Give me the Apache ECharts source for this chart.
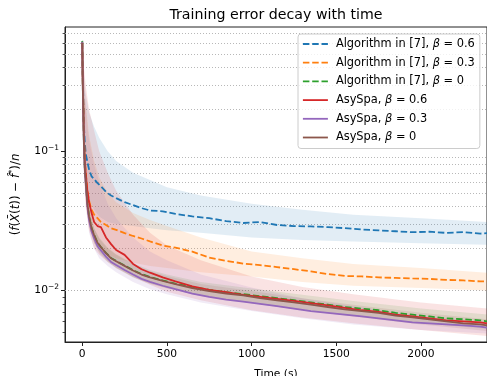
<!DOCTYPE html>
<html>
<head>
<meta charset="utf-8">
<script src="https://cdn.jsdelivr.net/npm/echarts@6/dist/echarts.min.js"></script>
<style>
  html, body { margin: 0; padding: 0; background: #fff; }
  #main { width: 487px; height: 376px; }
</style>
</head>
<body>
<div id="main"></div>
<script>
// time stamps (s) of the mean curves
const times = [0, 3, 6, 10, 15, 20, 30, 40, 55, 70, 90, 110, 140, 170, 200, 250, 300, 350, 400, 475,
  550, 650, 750, 850, 950, 1050, 1150, 1250, 1350, 1450, 1550, 1650, 1750, 1850, 1950, 2050, 2150, 2250, 2350, 2390];

// mean training error
const alg06 = [0.60, 0.35, 0.24, 0.15, 0.115, 0.097, 0.084, 0.074, 0.066, 0.063, 0.059, 0.056, 0.051, 0.048, 0.046, 0.043, 0.041, 0.039, 0.0375, 0.037,
  0.0355, 0.034, 0.033, 0.0315, 0.0305, 0.031, 0.0295, 0.029, 0.0288, 0.0285, 0.028, 0.0274, 0.027, 0.0266, 0.0262, 0.0264, 0.0259, 0.0262, 0.0256, 0.0258];
const alg03 = [0.60, 0.32, 0.22, 0.13, 0.09, 0.072, 0.053, 0.044, 0.038, 0.035, 0.033, 0.031, 0.0295, 0.028, 0.0272, 0.0258, 0.0246, 0.0236, 0.0225, 0.021,
  0.0203, 0.019, 0.0172, 0.0163, 0.0156, 0.0152, 0.0147, 0.0142, 0.0137, 0.0131, 0.0127, 0.0126, 0.0124, 0.0123, 0.0122, 0.0121, 0.0119, 0.0118, 0.0116, 0.0116];
const alg0 = [0.62, 0.30, 0.19, 0.11, 0.075, 0.062, 0.042, 0.034, 0.028, 0.025, 0.022, 0.0205, 0.0186, 0.0171, 0.0163, 0.0151, 0.014, 0.0131, 0.0125, 0.0118,
  0.0112, 0.0106, 0.0101, 0.0097, 0.0094, 0.0091, 0.0088, 0.0085, 0.0082, 0.0079, 0.0076, 0.0074, 0.0072, 0.0069, 0.0067, 0.0065, 0.0063, 0.0062, 0.0061, 0.0060];
const asy06 = [0.60, 0.32, 0.21, 0.12, 0.085, 0.07, 0.052, 0.043, 0.036, 0.031, 0.029, 0.0285, 0.024, 0.0215, 0.0195, 0.018, 0.0155, 0.0142, 0.0134, 0.0124,
  0.0116, 0.0107, 0.0101, 0.0097, 0.0093, 0.0090, 0.0087, 0.0084, 0.0081, 0.0078, 0.0075, 0.0072, 0.007, 0.0067, 0.0065, 0.0063, 0.0061, 0.006, 0.0059, 0.0058];
const asy03 = [0.61, 0.29, 0.18, 0.105, 0.072, 0.059, 0.040, 0.032, 0.0265, 0.0237, 0.0208, 0.0194, 0.0175, 0.016, 0.0152, 0.014, 0.013, 0.0121, 0.0115, 0.0108,
  0.0102, 0.0095, 0.009, 0.0086, 0.0083, 0.008, 0.0077, 0.0074, 0.0071, 0.0069, 0.0067, 0.0065, 0.0063, 0.0061, 0.0059, 0.0058, 0.0057, 0.0056, 0.0055, 0.0054];
const asy0 = [0.60, 0.30, 0.19, 0.11, 0.075, 0.062, 0.042, 0.034, 0.028, 0.025, 0.022, 0.0205, 0.0185, 0.017, 0.0162, 0.015, 0.0139, 0.013, 0.0124, 0.0117,
  0.0111, 0.0104, 0.0099, 0.0095, 0.0092, 0.0088, 0.0085, 0.0082, 0.0079, 0.0076, 0.0073, 0.0071, 0.0069, 0.0066, 0.0064, 0.0062, 0.0060, 0.0058, 0.0057, 0.0056];

// shaded spread around each curve (upper / lower edge)
const bandTimes = [0, 5, 10, 20, 40, 70, 100, 150, 200, 300, 400, 500, 700, 1000, 1300, 1600, 2000, 2390];
const alg06Hi = [0.6, 0.45, 0.36, 0.26, 0.19, 0.15, 0.125, 0.1, 0.085, 0.07, 0.062, 0.055, 0.048, 0.042, 0.038, 0.035, 0.033, 0.031];
const alg06Lo = [0.6, 0.2, 0.1, 0.06, 0.045, 0.038, 0.034, 0.031, 0.030, 0.029, 0.028, 0.027, 0.026, 0.024, 0.023, 0.0225, 0.0218, 0.0213];
const alg03Hi = [0.6, 0.45, 0.35, 0.22, 0.13, 0.085, 0.065, 0.05, 0.043, 0.036, 0.032, 0.029, 0.024, 0.019, 0.017, 0.0155, 0.0145, 0.0134];
const alg03Lo = [0.6, 0.2, 0.09, 0.045, 0.028, 0.022, 0.02, 0.018, 0.017, 0.0158, 0.015, 0.0145, 0.0135, 0.0126, 0.0115, 0.0108, 0.0104, 0.0100];
const alg0Hi = [0.6, 0.27, 0.13, 0.072, 0.039, 0.028, 0.024, 0.0203, 0.0182, 0.0157, 0.014, 0.013, 0.0115, 0.0103, 0.0093, 0.0084, 0.0074, 0.0067];
const alg0Lo = [0.6, 0.19, 0.095, 0.054, 0.03, 0.022, 0.0189, 0.0162, 0.0146, 0.0125, 0.0112, 0.0104, 0.0092, 0.0082, 0.0073, 0.0066, 0.0058, 0.0053];
const asy06Hi = [0.6, 0.5, 0.4, 0.3, 0.2, 0.14, 0.1, 0.07, 0.052, 0.035, 0.026, 0.021, 0.0165, 0.0126, 0.0106, 0.0094, 0.0082, 0.0074];
const asy06Lo = [0.6, 0.15, 0.07, 0.04, 0.027, 0.02, 0.018, 0.016, 0.0145, 0.0125, 0.011, 0.0098, 0.0085, 0.0072, 0.0064, 0.0058, 0.0052, 0.0047];
const asy03Hi = [0.6, 0.4, 0.3, 0.2, 0.12, 0.08, 0.06, 0.042, 0.033, 0.024, 0.019, 0.0165, 0.013, 0.0105, 0.0088, 0.0077, 0.0066, 0.0059];
const asy03Lo = [0.6, 0.18, 0.08, 0.045, 0.026, 0.02, 0.017, 0.015, 0.0135, 0.0115, 0.0102, 0.0094, 0.0082, 0.0071, 0.0063, 0.0057, 0.0052, 0.0049];
const asy0Hi = [0.6, 0.27, 0.13, 0.072, 0.039, 0.028, 0.0235, 0.02, 0.018, 0.0154, 0.0137, 0.0127, 0.0111, 0.0099, 0.0088, 0.0079, 0.0069, 0.0062];
const asy0Lo = [0.6, 0.18, 0.093, 0.053, 0.029, 0.022, 0.0185, 0.016, 0.0144, 0.0124, 0.0111, 0.0103, 0.0091, 0.0081, 0.0072, 0.0065, 0.0057, 0.0051];

// axis ticks
const xTicks = [0, 500, 1000, 1500, 2000];
const yMajor = [0.01, 0.1];
const yMinor = [0.005, 0.006, 0.007, 0.008, 0.009, 0.02, 0.03, 0.04, 0.05, 0.06, 0.07, 0.08, 0.09, 0.2, 0.3, 0.4, 0.5, 0.6, 0.7];

const curves = [
  {name: 'Algorithm in [7], β = 0.6', mean: alg06, hi: alg06Hi, lo: alg06Lo, color: '#1f77b4', dashed: true},
  {name: 'Algorithm in [7], β = 0.3', mean: alg03, hi: alg03Hi, lo: alg03Lo, color: '#ff7f0e', dashed: true},
  {name: 'Algorithm in [7], β = 0', mean: alg0, hi: alg0Hi, lo: alg0Lo, color: '#2ca02c', dashed: true},
  {name: 'AsySpa, β = 0.6', mean: asy06, hi: asy06Hi, lo: asy06Lo, color: '#d62728', dashed: false},
  {name: 'AsySpa, β = 0.3', mean: asy03, hi: asy03Hi, lo: asy03Lo, color: '#9467bd', dashed: false},
  {name: 'AsySpa, β = 0', mean: asy0, hi: asy0Hi, lo: asy0Lo, color: '#8c564b', dashed: false}
];

const FONT = 'DejaVu Sans';
let series = [];

// shaded bands, one polygon per curve (lower edge -> upper edge)
curves.forEach(function (c, i) {
  series.push({
    name: 'band' + i, type: 'custom', silent: true, clip: true,
    encode: {x: 0, y: [1, 2]},
    data: bandTimes.map((t, k) => [t, c.lo[k], c.hi[k]]),
    renderItem: function (params, api) {
      if (params.dataIndexInside !== 0) return null;
      const n = params.dataInsideLength;
      const top = [], bottom = [];
      for (let k = 0; k < n; k++) {
        const t = api.value(0, k);
        top.push(api.coord([t, api.value(2, k)]));
        bottom.unshift(api.coord([t, api.value(1, k)]));
      }
      return {
        type: 'polygon',
        shape: {points: top.concat(bottom)},
        style: {fill: c.color, opacity: 0.13}
      };
    }
  });
});

curves.forEach(function (c, i) {
  let s = {
    name: c.name, type: 'line', symbol: 'none', color: c.color,
    lineStyle: {width: 1.8, type: c.dashed ? [6.5, 2.8] : 'solid', color: c.color},
    data: times.map((t, k) => [t, c.mean[k]])
  };
  if (i === 0) {
    // dotted minor grid
    s.markLine = {
      silent: true, symbol: ['none', 'none'], label: {show: false}, z: 1,
      lineStyle: {color: '#b0b0b0', width: 0.9, type: [1, 2]},
      data: yMinor.map(v => ({yAxis: v}))
    };
  }
  series.push(s);
});

const chart = echarts.init(document.getElementById('main'));
chart.setOption({
  animation: false,
  textStyle: {fontFamily: FONT},
  title: {
    text: 'Training error decay with time', left: 276, top: 8, textAlign: 'center', padding: 0,
    textStyle: {fontFamily: FONT, fontSize: 14.2, fontWeight: 'normal', color: '#000'}
  },
  legend: {
    orient: 'vertical', left: 298, top: 34,
    data: curves.map(c => c.name),
    itemWidth: 25, itemHeight: 12, itemGap: 4.7,
    itemStyle: {opacity: 0},
    lineStyle: {width: 1.8},
    padding: [3, 5, 4, 4],
    borderColor: '#cccccc', borderWidth: 1, borderRadius: 3,
    backgroundColor: 'rgba(255,255,255,0.8)',
    formatter: name => name.replace('β', '{i|β}'),
    textStyle: {
      fontFamily: FONT, fontSize: 11.4, color: '#000', lineHeight: 14, padding: [0, 0, 0, 3],
      rich: {i: {fontFamily: FONT, fontSize: 11.4, fontStyle: 'italic', color: '#000'}}
    }
  },
  grid: {
    left: 65, right: 0, top: 27, bottom: 34, outerBoundsMode: 'none',
    show: true, borderColor: '#222', borderWidth: 1
  },
  xAxis: {
    type: 'value', min: -102, max: 2390,
    name: 'Time (s)', nameLocation: 'middle', nameGap: 27,
    nameTextStyle: {fontFamily: FONT, fontSize: 10.7, color: '#000'},
    axisLine: {onZero: false, lineStyle: {color: '#222', width: 1}},
    axisTick: {show: true, length: 4, customValues: xTicks, lineStyle: {color: '#222'}},
    axisLabel: {customValues: xTicks, margin: 7, fontFamily: FONT, fontSize: 10.7, color: '#000',
      formatter: v => String(v)},
    splitLine: {show: false}
  },
  yAxis: [{
    type: 'log', logBase: 10, min: 0.00426, max: 0.78,
    name: '({i|f}({i|X̄}({i|t})) − {i|f̂}{s|*})/{i|n}', nameLocation: 'middle', nameGap: 42, nameRotate: 90,
    nameTextStyle: {
      fontFamily: FONT, fontSize: 11.8, color: '#000', padding: [0, 20, 0, 0],
      rich: {
        i: {fontFamily: FONT, fontSize: 11.8, fontStyle: 'italic', color: '#000'},
        s: {fontFamily: FONT, fontSize: 8.5, color: '#000', padding: [0, 0, 6, 0]}
      }
    },
    axisLine: {show: true, onZero: false, lineStyle: {color: '#222', width: 1}},
    axisTick: {show: true, length: 4, customValues: yMajor, lineStyle: {color: '#222'}},
    axisLabel: {
      customValues: yMajor, margin: 6, fontFamily: FONT, fontSize: 10.7, color: '#000',
      formatter: v => '10{s|−' + Math.round(-Math.log10(v)) + '}',
      rich: {s: {fontFamily: FONT, fontSize: 7.5, color: '#000', padding: [0, 0, 7, 0]}}
    },
    splitLine: {show: false}
  }, {
    // minor ticks only
    type: 'log', logBase: 10, min: 0.00426, max: 0.78, position: 'left',
    axisLine: {show: false, onZero: false},
    axisTick: {show: true, length: 2.4, customValues: yMinor, lineStyle: {color: '#222', width: 0.8}},
    axisLabel: {show: false},
    splitLine: {show: false}
  }],
  series: series
});
</script>
</body>
</html>
